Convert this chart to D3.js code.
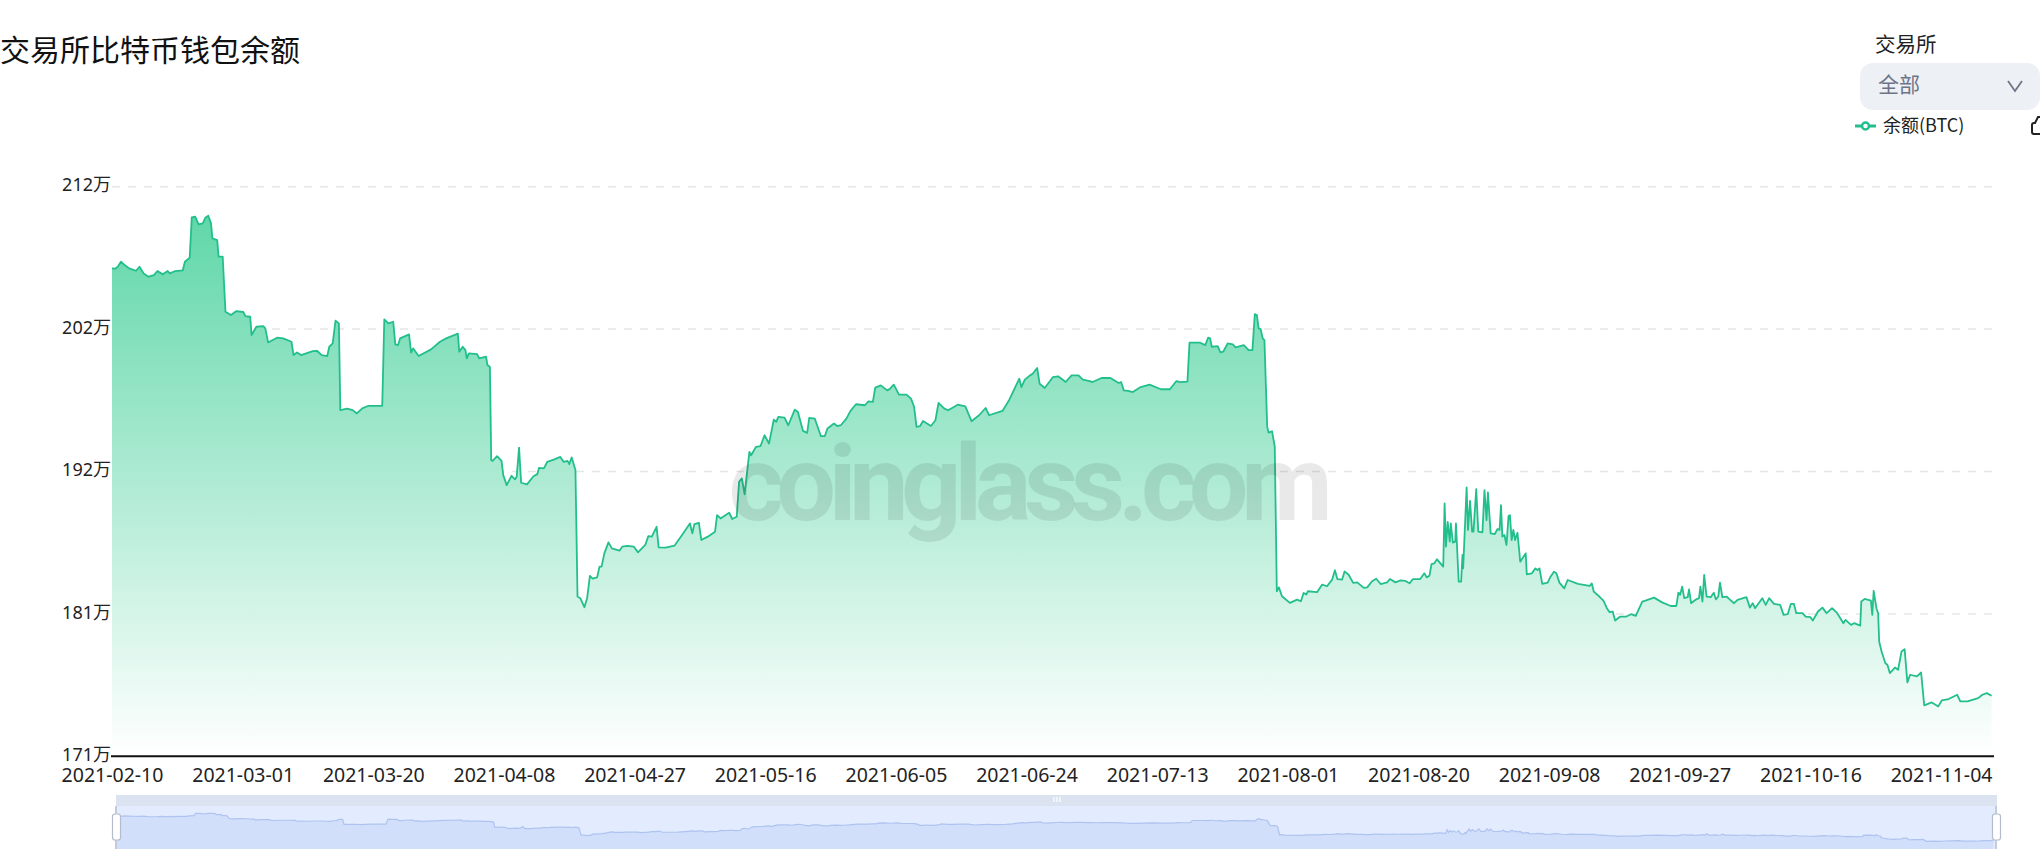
<!DOCTYPE html>
<html><head><meta charset="utf-8">
<script src="https://cdn.jsdelivr.net/npm/d3@7"></script>
<style>html,body{margin:0;padding:0;background:#fff;overflow:hidden}svg{display:block}</style>
</head><body><div id="chart"></div>
<script>
const titleText = "交易所比特币钱包余额";
const selectLabel = "交易所";
const selectValue = "全部";
const seriesName = "余额(BTC)";
const watermark = "coinglass.com";
const yTicks = [171, 181.25, 191.5, 201.75, 212];
const xTickLabels = ["2021-02-10","2021-03-01","2021-03-20","2021-04-08","2021-04-27","2021-05-16","2021-06-05","2021-06-24","2021-07-13","2021-08-01","2021-08-20","2021-09-08","2021-09-27","2021-10-16","2021-11-04"];
const slotsPerLabel = 19;
const lastSlot = 273.7;
// [day slot on the category axis, balance in 万 BTC]
const balance = [
[0,206.12],[.5,206.1],[.9,206.29],[1.3,206.6],[1.9,206.34],[2.5,206.12],[3.5,205.95],[4,206.24],[4.6,205.76],[5.3,205.52],[6.1,205.64],[6.6,205.93],[7.4,205.69],[8.1,205.93],[8.4,205.76],[9.2,205.93],[10.3,205.98],[10.6,206.6],[11.3,206.89],[11.6,209.79],[12.1,209.84],[12.6,209.29],[13.2,209.36],[13.6,209.79],[14,209.91],[14.4,209.36],[14.6,208.28],[15.3,208.16],[15.5,206.96],[16.1,206.96],[16.5,203],[17.3,202.76],[18.1,203.05],[19.1,202.98],[19.4,202.69],[20.1,202.64],[20.3,201.32],[21,201.92],[22,201.97],[22.3,201.8],[22.7,200.79],[24,201.13],[24.9,201.08],[26.1,200.84],[26.4,199.88],[26.9,200.07],[27.5,199.88],[29.2,200.17],[29.8,200.19],[30.5,199.88],[31.3,199.81],[31.6,200.48],[32.1,200.72],[32.5,202.35],[33,202.16],[33.2,195.92],[34.2,196.02],[35,195.92],[35.6,195.68],[36.4,196.04],[37.3,196.23],[39.3,196.23],[39.6,202.45],[40.2,202.16],[40.9,202.28],[41.2,200.65],[41.6,200.6],[41.9,201.08],[43.2,201.37],[43.5,200.05],[43.8,200.36],[44.6,199.81],[46.4,200.29],[47.7,200.84],[48.6,201.08],[50.3,201.42],[50.5,200.12],[51,200.48],[51.4,200.24],[51.6,199.64],[51.9,200],[53.1,199.95],[53.4,199.64],[54.4,199.76],[54.6,199.16],[54.96,199.02],
[55.15,192.31],[55.35,192.27],[56,192.6],[56.65,192.27],[56.9,191.24],[57.4,190.52],[58.1,191.19],[58.6,190.93],[58.85,191.12],[59.2,193.22],[59.5,190.69],[60.35,190.57],[61.3,191.16],[61.85,191.31],[62.1,191.76],[62.8,191.72],[63.3,192.19],[64.25,192.36],[65.2,192.55],[65.7,192.19],[66.25,192.27],[66.5,192.03],[66.85,192.51],[67.4,191.6],[67.7,182.5],[68.1,182.38],[68.7,181.73],[69.1,182.38],[69.5,183.98],[69.9,183.79],[70.55,183.88],[70.9,184.65],[71.2,184.65],[71.6,185.61],[72.2,186.4],[72.7,185.97],[73.8,185.8],[74.2,186.09],[74.95,186.14],[75.9,186.09],[76.5,185.68],[77.55,186.21],[78,186.85],[78.5,186.81],[79.2,187.52],[79.5,186.04],[80.5,186.02],[81.8,186.16],[82.9,186.93],[84.05,187.76],[84.4,187.05],[84.7,187.72],[85.35,187.81],[85.7,186.57],[86.65,186.81],[87.7,187.17],[88,188.36],[88.5,188.12],[89.75,188.53],[90.2,188.08],[90.85,188.24],[91.2,190.76],[91.6,191],[92,189.85],[92.5,192.07],[92.7,192.91],[92.95,192.67],[93.65,193.27],[94.3,193.32],[94.9,194.11],[95.55,193.51],[96.25,195.24],[96.6,195.07],[96.9,195.43],[97.8,195.38],[98.35,194.83],[99.3,195.95],[99.75,195.79],[100.5,194.42],[101.1,194.28],[101.4,195.36],[102.2,195.31],[103.1,194.04],[103.65,194.04],[104.05,194.59],[105,194.95],[105.5,194.76],[106,194.83],[106.8,195.31],[107.4,195.86],[108.2,196.34],[109.5,196.27],[110,196.55],[110.65,196.51],[111,197.54],[111.8,197.7],[112.75,197.34],[113.15,197.46],[113.7,197.75],[114.45,197.03],[115.55,197.03],[116.2,196.75],[116.65,196.15],[117,194.71],[117.5,194.76],[117.95,195.14],[119.1,194.78],[119.75,195.19],[120.2,196.43],[121.05,196.03],[121.6,195.91],[123,196.31],[124.1,196.19],[125,195.12],[126.1,195.55],[127.05,196.07],[127.55,195.55],[129.5,195.86],[130.5,196.67],[131.95,198.18],[132.25,197.58],[132.75,198.11],[133.5,198.42],[133.9,198.54],[134.2,198.73],[134.55,198.95],[134.9,197.82],[135.65,197.51],[136.85,198.3],[137.6,198.35],[138.7,197.94],[139.55,198.42],[140.55,198.42],[141.2,198.11],[142.2,198.01],[142.6,197.94],[143.9,198.23],[145.2,198.23],[146.4,197.87],[146.75,197.94],[147.15,197.34],[147.8,197.3],[148.45,197.22],[149.6,197.58],[150.9,197.75],[152.55,197.42],[153.85,197.42],[154.8,198.01],[155.35,197.94],
[156.4,197.97],[156.7,200.77],[158.25,200.77],[159,200.6],[159.4,201.13],[159.7,201.08],[159.95,200.48],[160.8,200.53],[161.2,200.07],[161.6,200.12],[162.25,200.72],[163,200.65],[163.4,200.43],[164.6,200.6],[165.3,200.24],[165.85,200.24],[166.2,202.83],[166.5,202.76],[166.75,201.8],[167.05,201.75],[167.35,201.08],[167.6,200.96],[168,194.73],[168.2,194.3],[168.7,194.4],[169.1,193.3],[169.4,182.88],[169.7,183.16],[170.15,182.52],[171.3,182.04],[172.35,182.28],[172.9,182.16],[173.3,182.76],[173.7,182.64],[173.9,182.88],[175.25,182.81],[176,183.36],[176.7,183.24],[177.45,183.72],[177.85,184.39],[178.2,183.76],[178.9,183.72],[179.25,184.31],[179.85,184.07],[180.5,183.48],[181.1,183.52],[182.05,183.12],[182.55,183.16],[183.25,183.6],[183.85,183.78],[184.5,183.4],[185.45,183.52],[185.85,183.76],[186.65,183.52],[187.4,183.66],
[188.1,183.62],[188.7,183.45],[189.2,183.76],[190.25,183.76],[190.85,184.17],[191.2,183.88],[191.6,184],[191.9,184.84],[192.3,184.89],[192.7,185.18],[193.6,184.65],[193.8,189.2],[194,186.09],[194.25,187.88],[194.55,186.45],[194.7,187.76],[195,186.38],[195.35,186.45],[195.45,187.76],[195.85,183.57],[196.2,183.57],[196.4,185.49],[196.5,184.53],[197,190.35],[197.2,187.29],[197.5,189.39],[197.8,187.17],[198,187.17],[198.4,190.23],[198.7,187.17],[199.3,187.12],[199.6,190.16],[199.9,188],[200.1,189.99],[200.5,187.05],[201.1,187],[201.5,187.36],[201.8,187.29],[202,189.08],[202.2,186.81],[202.5,186.93],[202.8,186.21],[203.1,188.29],[203.3,188.36],[203.55,186.57],[203.8,187.29],[204.05,186.57],[204.4,187.09],[204.8,185.01],[205.6,185.61],[205.75,184.1],[206.5,184.17],[207,184.53],[207.3,184.41],[207.6,184.53],[208,183.41],[208.8,183.5],[209.2,183.93],[209.7,184.29],[210.05,184.17],[210.5,183.5],[211.2,183.09],[211.7,183.69],[213.2,183.41],[214.9,183.26],[215.2,183.45],[215.5,182.85],[216.3,182.5],[216.9,182.21],[217.4,181.66],[217.8,181.37],[218.25,181.42],[218.6,180.77],[219.35,181.06],[220.25,181.06],[220.9,181.23],[221.6,181.11],[222.55,182.14],[223,182.21],[224.25,182.42],[225.5,182.06],[226.7,181.82],[227.5,181.82],[227.8,182.78],[228.05,182.62],[228.35,183.21],[228.65,182.38],[229.15,182.45],[229.35,183.02],[229.65,182.02],[230.4,182.3],[230.8,182.38],[231,183.21],[231.3,182.14],[231.55,184.05],[231.9,182.5],[232.5,182.45],[232.95,182.78],[233.25,182.3],[233.6,182.5],[233.85,183.5],[234.2,182.45],[234.8,182.5],[235.25,182.3],[235.9,182.02],[236.4,182.26],[237.7,182.45],[238.2,181.7],[238.6,182.02],[238.95,181.66],[240,182.38],[240.5,181.9],[241,182.38],[241.7,181.97],[242.6,181.9],[243.1,181.18],[243.7,181.23],[244.15,181.97],[244.6,181.97],[244.95,181.3],[245.85,181.3],[246.3,181.06],[247,181.01],[247.35,180.77],[248.1,181.42],[248.75,181.7],[249.35,181.3],[250.15,181.66],[250.9,181.3],[251.8,180.58],[252.1,180.82],[252.9,180.46],[253.35,180.58],[254.25,180.41],[254.4,182.14],[254.9,182.33],[255.8,182.21],[256,181.18],[256.2,182.9],[256.6,181.66],[256.85,181.3],[257,179.26],[257.35,178.54],[257.9,177.7],[258.2,177.59],[258.55,176.99],[259.3,177.39],[259.75,177.23],[260.25,178.54],[260.7,178.71],[261.1,176.32],[261.5,176.87],[262.5,176.75],[263.1,177.03],[263.55,174.66],[264.65,174.88],[265.6,174.59],[266.1,175.02],[267.1,175.12],[268.35,175.43],[268.8,174.95],[269.85,174.95],[271.4,175.19],[272,175.43],[272.65,175.55],[273.35,175.36]
];

const W = 2040, H = 867;
const uiFont = "'Noto Sans CJK SC','Noto Sans',sans-serif";
const axisFont = "'Noto Sans','Noto Sans CJK SC',sans-serif";
const green = "#22bf8d";

const svg = d3.select("#chart").append("svg").attr("width", W).attr("height", H).attr("viewBox", [0,0,W,H]);
const defs = svg.append("defs");

const x = d3.scaleLinear().domain([0, lastSlot]).range([112, 1994]);
const y = d3.scaleLinear().domain([171, 212]).range([756.3, 186.7]);

const grad = defs.append("linearGradient").attr("id","areaFill").attr("gradientUnits","userSpaceOnUse")
  .attr("x1",0).attr("x2",0).attr("y1",y(d3.max(balance,d=>d[1]))).attr("y2",y(171));
grad.append("stop").attr("offset",0).attr("stop-color","#60d7a9");
grad.append("stop").attr("offset",1).attr("stop-color","#ffffff");

// Title
svg.append("text").attr("x",0).attr("y",61).attr("font-family",uiFont).attr("font-size",30).attr("fill","#111").text(titleText);

// Selector
svg.append("text").attr("x",1875).attr("y",52).attr("font-family",uiFont).attr("font-size",20.5).attr("fill","#222").text(selectLabel);
svg.append("rect").attr("x",1860).attr("y",63).attr("width",180).attr("height",47).attr("rx",13).attr("fill","#edf0f4");
svg.append("text").attr("x",1878).attr("y",92).attr("font-family",uiFont).attr("font-size",21).attr("fill","#6c7488").text(selectValue);
svg.append("path").attr("d",d3.line()([[2008,81],[2015,91],[2022,81]])).attr("fill","none").attr("stroke","#6c7488").attr("stroke-width",1.8);

// Legend
svg.append("line").attr("x1",1855).attr("x2",1876).attr("y1",126).attr("y2",126).attr("stroke",green).attr("stroke-width",3);
svg.append("circle").attr("cx",1865.5).attr("cy",126).attr("r",3.5).attr("fill","#fff").attr("stroke",green).attr("stroke-width",2.5);
svg.append("text").attr("x",1883).attr("y",132).attr("font-family",uiFont).attr("font-size",18).attr("fill","#222").text(seriesName);
svg.append("path").attr("d","M2042 134H2034Q2032 134 2032 132V125Q2032 123 2034 123H2035L2038 117H2042").attr("fill","none").attr("stroke","#222").attr("stroke-width",2);

// Grid
svg.append("g").selectAll("line").data(yTicks.slice(1)).join("line")
  .attr("x1",x(0)).attr("x2",x(lastSlot)).attr("y1",d=>y(d)).attr("y2",d=>y(d))
  .attr("stroke","#e6e6e6").attr("stroke-width",1.5).attr("stroke-dasharray","8 8");

// Area + line
const areaGen = d3.area().x(d=>x(d[0])).y0(y(171)).y1(d=>y(d[1]));
const lineGen = d3.line().x(d=>x(d[0])).y(d=>y(d[1]));
svg.append("path").datum(balance).attr("d",areaGen).attr("fill","url(#areaFill)");
svg.append("path").datum(balance).attr("d",lineGen).attr("fill","none").attr("stroke",green).attr("stroke-width",1.8).attr("stroke-linejoin","round");

// Watermark
svg.append("text").attr("x",1027).attr("y",520).attr("text-anchor","middle")
  .attr("font-family","Roboto,sans-serif").attr("font-weight",700).attr("font-size",106).attr("letter-spacing",-7.5)
  .attr("fill","#000").attr("fill-opacity",0.085).text(watermark);

// Axes
const yAxis = d3.axisLeft(y).tickValues(yTicks).tickSize(0).tickPadding(0).tickFormat(d=>Math.round(d)+"万");
const gy = svg.append("g").attr("transform","translate(111,-1.5)").call(yAxis);
gy.select(".domain").remove();
gy.selectAll("text").attr("font-family",axisFont).attr("font-size",18).attr("fill","#222");

const xAxis = d3.axisBottom(x).tickValues(xTickLabels.map((_,i)=>i*slotsPerLabel)).tickSize(0).tickPadding(0)
  .tickFormat((d,i)=>xTickLabels[i]);
const gx = svg.append("g").attr("transform","translate(0,756.3)").call(xAxis);
gx.select(".domain").attr("d",`M111,0H${x(lastSlot)}`).attr("stroke","#111").attr("stroke-width",2);
gx.selectAll("text").attr("y",12).attr("font-family",axisFont).attr("font-size",19.5).attr("fill","#222");

// Overview slider
const sx = d3.scaleLinear().domain([0,lastSlot]).range([116,1996]);
const sy = d3.scaleLinear().domain([165,219]).range([849,806]);
svg.append("rect").attr("x",116).attr("y",795).attr("width",1881).attr("height",54).attr("fill","#dbe3f1");
svg.append("rect").attr("x",116).attr("y",806).attr("width",1881).attr("height",43).attr("fill","#e3ecfe");
svg.append("path").datum(balance).attr("d",d3.area().x(d=>sx(d[0])).y0(849).y1(d=>sy(d[1]))).attr("fill","#d2dffa");
svg.append("path").datum(balance).attr("d",d3.line().x(d=>sx(d[0])).y(d=>sy(d[1]))).attr("fill","none").attr("stroke","#aec3f0").attr("stroke-width",1.2);
[116,1996].forEach(px=>{
  svg.append("line").attr("x1",px).attr("x2",px).attr("y1",806).attr("y2",849).attr("stroke","#c3cbdc").attr("stroke-width",2);
  svg.append("rect").attr("x",px-3.5).attr("y",814).attr("width",8).attr("height",26).attr("rx",2.5).attr("fill","#fff").attr("stroke","#b4bccd").attr("stroke-width",1.2);
});
[-3,0,3].forEach(d=>svg.append("line").attr("x1",1057+d).attr("x2",1057+d).attr("y1",797).attr("y2",802).attr("stroke","#fff").attr("stroke-width",1.2));
</script></body></html>
